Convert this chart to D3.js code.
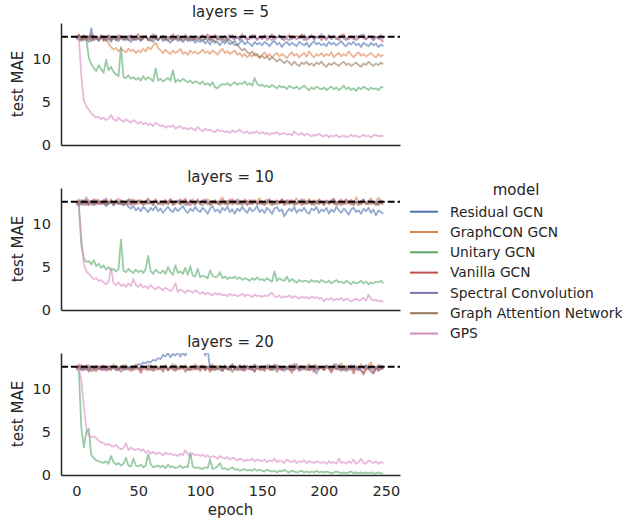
<!DOCTYPE html>
<html>
<head>
<meta charset="utf-8">
<script src="https://cdn.jsdelivr.net/npm/d3@7"></script>
<style>
  body { margin: 0; background: #fff; }
  text { font-family: "DejaVu Sans", sans-serif; fill: #262626; }
</style>
</head>
<body>
<script>
// every second epoch
var epochs = [0,2,4,6,8,10,12,14,16,18,20,22,24,26,28,30,32,34,36,38,40,42,44,46,48,
  50,52,54,56,58,60,62,64,66,68,70,72,74,76,78,80,82,84,86,88,90,92,94,96,98,
  100,102,104,106,108,110,112,114,116,118,120,122,124,126,128,130,132,134,136,138,140,142,144,146,148,
  150,152,154,156,158,160,162,164,166,168,170,172,174,176,178,180,182,184,186,188,190,192,194,196,198,
  200,202,204,206,208,210,212,214,216,218,220,222,224,226,228,230,232,234,236,238,240,242,244,246,248];

var models = ["Residual GCN", "GraphCON GCN", "Unitary GCN", "Vanilla GCN", "Spectral Convolution", "Graph Attention Network", "GPS"];
var colors = ["#4c72b0", "#dd8452", "#55a868", "#c44e52", "#8172b3", "#937860", "#da8bc3"];
var layers = [5, 10, 20];
var baseline = 12.6;
var xTicks = [0, 50, 100, 150, 200, 250];
var yTicks = [0, 5, 10];

// layers = 5
var res5 = [12.4,12.6,12.1,12.5,12.3,12.0,13.6,12.2,12.5,12.1,12.4,12.7,12.2,12.4,12.0,12.6,12.3,12.1,12.5,12.2,12.6,12.3,12.0,12.4,12.2,
  12.5,12.1,12.4,12.7,12.2,12.3,12.0,12.5,12.2,12.6,12.1,12.4,12.2,11.9,12.3,12.5,12.1,12.4,12.0,12.3,12.6,12.1,12.3,11.9,12.2,
  12.0,12.3,11.8,12.1,11.7,12.2,11.9,12.0,11.6,12.1,11.8,12.2,11.7,11.9,12.1,11.6,11.9,12.2,11.7,12.0,11.8,11.5,12.0,11.7,11.9,
  11.6,12.0,11.8,11.5,11.9,12.1,11.7,11.9,11.4,11.8,12.0,11.6,11.9,11.7,11.5,12.0,11.8,11.6,11.9,11.4,11.8,12.1,11.7,11.9,11.6,
  11.8,11.5,12.0,11.7,11.9,11.6,11.8,12.1,11.7,11.5,11.9,11.7,12.0,11.6,11.8,11.4,11.9,11.7,11.5,11.9,11.6,11.8,11.4,11.7,11.5];
var gcon5 = [12.5,12.9,12.2,12.6,12.3,12.7,12.1,12.5,12.4,12.2,12.6,12.3,12.5,11.8,11.4,11.1,11.3,10.9,11.2,11.0,10.8,11.2,10.9,11.1,10.7,
  11.0,10.8,11.2,10.9,11.4,11.1,11.6,11.9,11.3,11.0,10.7,11.1,10.8,10.6,11.0,10.7,10.9,11.2,10.6,10.8,10.5,11.0,10.7,10.9,10.6,
  10.8,11.1,10.7,10.9,10.6,11.0,10.8,10.5,10.9,11.2,10.7,10.9,10.6,10.8,11.0,10.5,10.7,10.3,10.6,10.2,10.5,10.3,10.7,10.4,10.1,
  10.5,10.8,10.3,10.6,10.2,10.5,10.7,10.3,10.6,10.4,10.1,10.5,10.8,10.4,10.6,10.2,10.5,10.7,10.3,10.9,10.5,10.2,10.6,10.4,10.7,
  10.3,10.6,10.4,10.8,10.2,10.5,10.7,10.3,10.6,10.4,10.9,10.5,10.2,10.6,10.8,10.4,10.6,10.3,10.5,10.7,10.4,10.2,10.6,10.3,10.5];
var uni5 = [12.5,12.8,12.4,12.6,12.3,10.2,9.4,9.0,8.6,9.3,8.8,8.4,9.9,8.7,9.1,8.5,8.2,8.0,11.4,7.9,7.8,8.1,7.7,7.9,7.6,
  7.8,7.5,8.0,7.6,7.9,7.7,7.4,8.9,7.5,7.7,7.4,7.6,7.8,7.5,8.7,7.3,7.6,7.4,7.7,7.5,7.3,7.5,7.2,7.4,7.3,
  7.1,7.4,7.0,7.2,6.9,7.3,6.7,6.6,6.9,7.1,7.0,7.2,6.9,7.1,7.3,7.0,7.2,7.1,7.4,7.0,7.2,6.9,7.8,7.1,6.9,
  7.0,6.8,6.9,6.7,7.0,6.8,6.6,6.9,6.7,6.8,6.5,6.9,6.7,6.6,6.8,6.5,6.7,6.9,6.6,6.4,6.7,6.5,6.8,6.6,6.5,
  6.7,6.4,6.6,6.8,6.5,6.7,6.4,6.6,6.9,6.5,6.7,6.4,6.6,6.3,6.7,6.5,6.8,6.6,6.4,6.7,6.5,6.6,6.4,6.7,6.8];
var van5 = [12.3,12.8,12.5,12.2,12.7,12.4,12.9,12.2,12.6,12.4,12.8,12.1,12.5,12.7,12.3,12.6,12.2,12.8,12.4,12.6,12.3,12.7,12.5,12.2,12.6,
  12.9,12.3,12.5,12.7,12.2,12.6,12.4,12.8,12.3,12.5,12.7,12.2,12.6,12.4,12.9,12.3,12.6,12.2,12.5,12.8,12.4,12.6,12.2,12.7,12.5,
  12.3,12.7,12.4,12.9,12.2,12.5,12.8,12.3,12.6,12.4,12.7,12.2,12.5,12.8,12.4,12.6,12.3,12.9,12.5,12.2,12.6,12.4,12.8,12.3,12.6,
  12.4,12.8,12.2,12.6,12.9,12.3,12.5,12.7,12.4,12.2,12.6,12.8,12.3,12.5,12.7,12.4,12.9,12.2,12.6,12.4,12.8,12.3,12.5,12.7,12.2,
  12.6,12.4,12.8,12.3,12.7,12.5,12.2,12.6,12.9,12.4,12.3,12.7,12.5,12.2,12.6,12.8,12.4,12.3,12.7,12.5,12.2,12.6,12.4,12.3,12.0];
var spec5 = [12.6,12.2,12.4,12.8,12.3,12.5,12.1,12.7,12.4,12.2,12.6,12.3,12.5,12.8,12.2,12.4,12.6,12.3,12.7,12.4,12.2,12.5,12.8,12.3,12.6,
  12.4,12.2,12.7,12.5,12.3,12.6,12.9,12.4,12.2,12.5,12.7,12.3,12.4,12.6,12.2,12.5,12.8,12.3,12.6,12.4,12.2,12.7,12.5,12.3,12.6,
  12.4,12.8,12.3,12.5,12.2,12.6,12.4,12.7,12.3,12.5,12.2,12.6,12.8,12.4,12.3,12.6,12.2,12.5,12.7,12.4,12.3,12.8,12.5,12.2,12.6,
  12.3,12.5,12.7,12.4,12.2,12.6,12.5,12.8,12.3,12.6,12.4,12.2,12.7,12.5,12.3,12.6,12.4,12.8,12.2,12.5,12.7,12.3,12.6,12.4,12.9,
  12.5,12.2,12.6,12.4,12.7,12.3,12.5,12.8,12.4,12.2,12.6,12.5,12.3,12.7,12.4,12.6,12.9,12.3,12.5,12.7,12.2,12.6,12.4,12.8,12.3];
var gat5 = [12.4,12.7,12.3,12.5,12.2,12.6,12.4,12.3,12.5,12.2,12.6,12.4,12.1,12.5,12.3,12.6,12.2,12.4,12.7,12.3,12.5,12.2,12.4,12.6,12.3,
  12.5,12.2,12.4,12.6,12.3,12.1,12.5,12.4,12.2,12.6,12.3,12.5,12.1,12.4,12.2,12.5,12.3,12.6,12.2,12.4,12.1,12.3,12.5,12.2,12.4,
  12.3,12.1,12.4,12.2,12.5,12.3,12.0,12.4,12.2,12.3,12.1,12.4,12.2,11.9,11.6,11.7,11.3,11.0,11.2,10.8,10.6,10.9,10.4,10.6,10.2,
  10.4,10.1,10.3,9.9,10.2,10.0,9.7,10.0,9.8,9.5,9.8,9.6,9.3,9.7,9.4,9.2,9.6,9.4,9.7,9.3,9.5,9.2,9.6,9.4,9.7,
  9.3,9.1,9.5,9.3,9.6,9.4,9.2,9.5,9.7,9.3,9.5,9.2,9.4,9.6,9.3,9.1,9.5,9.3,9.7,9.4,9.2,9.5,9.3,9.6,9.4];
var gps5 = [12.6,12.4,8.0,5.2,4.5,4.1,3.7,3.4,3.2,3.3,3.0,3.2,2.9,3.1,3.5,3.0,2.8,3.2,2.9,2.7,3.0,2.8,2.6,2.9,2.7,
  2.5,2.7,2.4,2.6,2.3,2.5,2.2,2.6,2.4,2.2,2.3,2.0,2.2,2.1,2.3,1.9,2.1,2.2,1.9,2.0,1.8,2.0,1.9,1.7,2.1,
  1.8,1.6,1.9,1.7,1.8,1.6,1.5,1.8,1.6,1.7,1.5,1.6,1.4,1.7,1.5,1.6,1.8,1.5,1.4,1.6,1.3,1.5,1.4,1.6,1.3,
  1.5,1.3,1.4,1.2,1.4,1.3,1.5,1.2,1.3,1.4,1.2,1.3,1.1,1.6,1.3,1.2,1.4,1.1,1.3,1.2,1.0,1.2,1.1,1.3,1.1,
  1.0,1.2,0.9,1.1,1.0,1.2,0.9,1.0,1.1,0.9,1.0,1.2,1.0,1.1,0.9,1.0,1.2,1.0,1.1,0.9,1.1,1.2,1.0,1.1,1.0];

// layers = 10
var res10 = [12.4,12.1,12.6,12.2,12.5,12.3,12.7,12.2,12.4,12.6,12.3,12.5,12.1,12.4,12.6,12.2,12.5,12.3,12.6,12.2,12.4,12.0,11.8,12.1,11.6,
  11.9,11.5,12.0,11.7,11.4,11.9,11.6,12.1,11.5,11.8,11.3,11.7,12.0,11.6,11.4,11.9,11.5,11.8,12.1,11.6,11.3,11.8,11.5,12.0,11.6,
  11.4,11.9,11.6,11.2,11.8,12.1,11.5,11.7,11.3,11.9,11.6,12.0,11.4,11.7,11.2,11.8,11.5,12.0,11.6,11.3,11.9,11.5,11.7,12.1,11.4,
  11.7,11.3,11.9,11.6,11.2,11.8,12.0,11.5,11.7,10.9,11.4,11.8,11.5,12.0,11.3,11.7,11.5,11.9,11.4,11.2,11.8,11.6,12.0,11.3,11.7,
  11.5,11.9,11.2,11.7,11.4,12.0,11.6,11.3,11.8,11.5,11.1,11.7,11.9,11.4,11.6,11.2,11.8,11.5,11.9,11.3,11.7,11.0,11.6,11.4,11.2];
var gcon10 = [12.5,12.9,12.3,12.7,12.4,12.8,12.2,12.6,12.9,12.4,12.7,12.3,12.8,12.5,12.9,12.4,12.6,13.0,12.3,12.7,12.5,12.8,12.4,12.9,12.6,
  12.3,12.8,12.5,12.7,13.0,12.4,12.6,12.9,12.3,12.7,12.5,12.8,12.4,12.9,12.6,12.3,12.8,12.5,12.7,13.0,12.4,12.6,12.9,12.3,12.7,
  12.5,12.8,12.4,12.9,12.6,12.3,12.7,12.5,12.8,13.1,12.4,12.6,12.9,12.3,12.7,12.5,12.8,12.4,12.9,12.6,12.3,12.8,12.5,12.7,13.0,
  12.4,12.6,12.9,12.3,12.7,12.5,12.8,12.4,12.9,12.6,12.3,12.8,12.5,12.7,13.0,12.4,12.6,12.9,12.3,12.7,12.5,12.8,12.4,12.9,12.6,
  12.3,12.8,12.5,12.7,13.0,12.4,12.6,12.9,12.3,12.7,12.5,12.8,12.4,13.1,12.6,12.3,12.8,12.5,12.7,13.0,12.4,12.6,13.1,12.5,12.7];
var uni10 = [12.5,12.2,7.5,6.0,5.6,5.7,5.3,5.8,5.1,5.4,4.9,5.2,4.7,5.0,4.6,4.8,4.5,4.7,8.2,4.6,4.4,4.8,4.5,4.3,4.7,
  4.4,4.6,4.3,4.8,6.3,4.5,4.2,4.7,4.4,4.3,4.6,4.2,5.0,4.4,4.1,5.2,4.3,4.5,4.2,4.9,4.1,5.1,4.0,3.9,4.8,
  3.8,4.0,3.9,3.7,4.6,4.0,3.8,3.9,4.4,3.7,3.9,3.6,3.8,3.7,3.9,3.6,3.8,3.5,3.7,3.6,3.4,3.7,3.5,3.8,3.5,
  3.6,3.4,3.7,3.5,3.3,4.5,3.4,3.7,3.5,3.4,3.9,3.3,3.6,3.4,3.2,3.5,3.3,3.4,3.4,3.2,3.5,3.3,3.4,3.2,3.5,
  3.3,3.2,3.4,3.1,3.3,3.5,3.2,3.3,3.1,3.4,3.2,3.0,3.3,3.1,3.2,3.4,3.1,3.3,3.0,3.2,3.1,3.3,3.2,3.4,3.1];
var van10 = [12.3,12.7,12.4,12.8,12.2,12.6,12.5,12.9,12.3,12.6,12.4,12.8,12.3,12.5,12.7,12.2,12.6,12.4,12.8,12.3,12.5,12.9,12.2,12.6,12.4,
  12.8,12.5,12.3,12.7,12.4,12.6,12.2,12.8,12.5,12.3,12.7,12.4,12.6,12.9,12.2,12.5,12.7,12.3,12.6,12.8,12.4,12.2,12.6,12.5,12.9,
  12.3,12.7,12.4,12.6,12.2,12.5,12.8,12.3,12.6,12.4,12.7,12.2,12.5,12.9,12.4,12.6,12.3,12.7,12.5,12.2,12.8,12.4,12.6,12.3,12.7,
  12.5,12.2,12.6,12.8,12.4,12.3,12.7,12.5,12.9,12.2,12.6,12.4,12.8,12.3,12.5,12.7,12.2,12.6,12.4,12.9,12.3,12.5,12.7,12.4,12.6,
  12.2,12.6,12.4,12.8,12.3,12.5,12.7,12.2,12.6,12.9,12.4,12.3,12.7,12.5,12.2,12.6,12.8,12.4,12.3,12.7,12.5,12.2,12.6,12.4,12.3];
var spec10 = [12.6,12.3,12.8,12.5,13.1,12.4,12.7,12.3,12.6,12.8,12.4,12.5,13.0,12.3,12.6,12.4,12.8,12.5,12.3,12.7,12.4,12.6,12.9,12.3,12.5,
  12.7,12.4,12.6,12.3,12.9,12.5,12.4,12.7,12.3,12.6,12.5,12.8,12.4,12.6,12.3,12.7,12.5,12.9,12.4,12.6,12.2,12.8,12.5,12.3,12.7,
  12.4,12.6,12.9,12.3,12.5,12.7,12.4,12.6,12.3,12.8,12.5,12.4,12.7,12.3,12.6,12.9,12.4,12.5,12.7,12.3,12.6,12.4,12.8,12.5,12.3,
  12.7,12.4,12.6,12.9,12.3,12.5,12.7,12.4,12.6,12.3,12.8,12.5,12.4,12.7,12.3,12.6,12.9,12.4,12.5,12.7,12.3,12.6,12.4,12.8,12.5,
  12.3,12.7,12.4,12.6,12.9,12.5,12.3,12.7,12.4,12.6,12.5,12.8,12.3,12.6,12.4,12.7,12.9,12.3,12.5,12.7,12.4,12.6,12.3,12.8,12.5];
var gat10 = [12.4,12.6,12.3,12.5,12.7,12.2,12.5,12.4,12.7,12.3,12.6,12.4,12.2,12.6,12.5,12.3,12.7,12.4,12.6,12.2,12.5,12.3,12.6,12.4,12.3,
  12.7,12.5,12.2,12.6,12.4,12.5,12.3,12.7,12.4,12.6,12.2,12.5,12.3,12.7,12.4,12.6,12.5,12.3,12.6,12.2,12.5,12.7,12.4,12.3,12.6,
  12.4,12.2,12.6,12.5,12.3,12.7,12.4,12.6,12.2,12.5,12.3,12.7,12.4,12.6,12.5,12.3,12.6,12.2,12.5,12.7,12.4,12.3,12.6,12.4,12.5,
  12.3,12.6,12.4,12.7,12.2,12.5,12.3,12.6,12.4,12.5,12.7,12.3,12.6,12.2,12.4,12.6,12.5,12.3,12.7,12.4,12.6,12.2,12.5,12.3,12.6,
  12.4,12.7,12.3,12.5,12.6,12.2,12.4,12.6,12.5,12.3,12.7,12.4,12.2,12.6,12.5,12.3,12.6,12.4,12.7,12.3,12.5,12.4,12.2,12.6,12.5];
var gps10 = [12.5,12.0,8.4,5.4,4.5,4.2,3.9,3.6,3.7,3.4,3.5,3.2,3.0,3.3,4.9,3.1,2.9,3.2,2.8,3.0,2.7,3.1,2.8,3.6,2.9,
  2.7,3.0,2.6,2.8,2.5,2.9,2.6,2.4,2.7,2.5,2.3,2.6,2.4,2.2,2.5,3.1,2.1,2.4,2.2,2.0,2.3,2.2,2.0,2.3,2.1,
  1.9,2.1,1.8,2.0,1.9,1.7,2.0,1.8,1.9,1.7,1.8,1.6,1.9,1.7,1.8,1.6,1.7,1.9,1.6,1.8,1.7,1.5,1.8,1.6,1.7,
  1.5,1.7,1.6,1.8,2.0,1.6,1.5,1.7,1.4,1.6,1.5,1.7,1.4,1.6,1.5,1.3,1.6,1.4,1.5,1.3,1.6,1.4,1.5,1.3,1.4,
  1.0,1.3,1.2,1.4,1.1,1.3,1.2,1.4,1.1,1.3,1.2,1.0,1.2,1.3,1.1,1.2,1.4,1.1,1.8,1.3,1.1,1.2,1.0,1.1,0.9];

// layers = 20
var res20 = [12.4,12.7,12.2,12.5,12.3,12.6,12.1,12.4,12.7,12.3,12.5,12.2,12.6,12.4,12.3,12.7,12.5,12.2,12.6,12.4,12.3,12.6,12.5,12.7,12.6,
  12.9,12.8,13.1,13.0,13.2,13.1,13.4,13.3,13.6,13.5,14.0,13.8,14.2,13.7,14.1,13.9,14.3,13.8,14.2,13.9,14.6,14.4,15.0,14.8,15.2,
  14.9,15.1,13.9,14.6,12.4,12.2,12.6,12.3,12.5,12.1,12.7,12.4,12.2,12.6,12.3,12.5,12.8,12.2,12.4,12.6,12.3,12.5,12.1,12.7,12.4,
  12.6,12.3,12.5,12.8,12.2,12.4,12.7,12.3,12.5,12.1,12.6,12.4,12.8,12.2,12.5,12.3,12.7,12.4,12.6,12.2,12.5,12.8,12.3,12.4,12.6,
  12.3,12.7,12.4,12.2,12.6,12.5,12.8,12.3,12.4,12.1,12.6,12.7,12.3,12.5,12.2,12.6,12.4,12.8,12.3,12.5,11.9,12.4,12.6,12.3,12.5];
var gcon20 = [12.5,12.9,12.2,12.6,12.3,12.8,12.4,12.1,12.7,12.5,12.3,12.8,12.4,12.6,12.2,12.9,12.5,12.3,12.7,12.4,12.8,12.2,12.6,12.4,12.9,
  12.3,12.5,12.7,12.2,12.6,12.8,12.4,12.5,12.3,12.7,12.4,12.8,12.2,12.6,12.9,12.3,12.5,12.7,12.4,12.8,12.3,12.6,12.2,12.9,12.5,
  12.3,12.8,12.4,12.6,12.2,12.9,12.5,12.3,12.7,12.4,12.8,12.3,12.6,12.9,12.4,12.2,12.7,12.5,12.8,12.3,12.6,12.4,12.9,12.5,12.3,
  12.7,12.4,12.8,12.2,12.6,12.9,12.4,12.5,12.3,12.7,12.4,12.8,12.2,13.0,12.5,12.3,12.7,12.4,12.6,12.9,12.3,12.5,12.8,12.4,12.6,
  12.3,12.8,12.5,12.2,12.9,12.4,12.7,13.0,12.3,12.6,12.5,12.8,12.2,12.7,12.4,12.9,12.5,12.3,12.8,13.1,12.4,12.6,12.3,12.8,12.6];
var uni20 = [12.5,12.0,5.5,3.2,5.0,5.4,2.3,2.0,1.7,1.6,1.5,1.4,1.6,1.3,2.2,1.5,1.2,1.4,1.1,1.3,2.0,1.1,1.0,1.9,1.1,
  1.0,1.2,0.9,1.1,2.4,1.3,0.9,1.0,1.1,0.9,1.1,0.8,1.2,0.9,1.0,0.8,0.9,1.1,0.8,1.0,0.9,2.6,1.0,0.8,0.9,
  0.8,0.7,0.9,0.8,1.8,0.7,0.8,1.0,1.4,0.7,0.8,0.6,0.7,0.9,0.6,0.7,0.5,0.6,0.7,0.5,0.6,0.5,0.7,0.5,0.6,
  0.5,0.4,0.6,0.5,0.4,0.5,0.3,0.5,0.4,0.6,0.4,0.3,0.5,0.4,0.3,0.4,0.5,0.3,0.4,0.3,0.4,0.3,0.5,0.3,0.4,
  0.3,0.4,0.3,0.2,0.3,0.4,0.3,0.2,0.3,0.2,0.3,0.4,0.2,0.3,0.2,0.3,0.2,0.3,0.2,0.3,0.2,0.2,0.3,0.2,0.2];
var van20 = [12.3,12.6,12.8,12.2,12.5,12.0,12.7,12.4,12.1,12.6,12.3,12.5,12.1,12.7,12.3,12.6,12.2,12.4,12.0,12.6,12.3,12.5,12.1,12.7,12.3,
  12.5,11.9,12.4,12.6,12.2,12.5,12.1,12.7,12.3,12.5,12.0,12.6,12.2,12.4,12.7,12.1,12.5,12.3,12.6,12.0,12.4,12.2,12.7,12.3,12.5,
  12.1,12.6,12.3,12.5,12.0,12.7,12.2,12.4,12.6,12.1,12.5,12.3,12.7,12.0,12.4,12.6,12.2,12.5,12.1,12.7,12.3,12.4,12.0,12.6,12.2,
  12.5,12.1,12.6,12.3,12.4,12.7,12.0,12.5,12.2,12.6,12.3,12.5,11.9,12.4,12.6,12.1,12.5,12.3,12.7,12.2,12.4,12.0,12.6,12.3,12.5,
  12.2,12.6,12.4,11.9,12.5,12.3,12.6,12.1,12.4,12.7,12.2,12.5,11.8,12.4,12.6,12.2,11.7,12.3,12.6,12.0,11.8,12.4,12.1,12.5,12.3];
var spec20 = [12.7,12.3,12.5,12.2,12.8,12.4,12.6,12.3,12.5,12.7,12.2,12.6,12.4,12.3,12.7,12.5,12.2,12.6,12.4,12.8,12.3,12.5,12.4,12.2,12.7,
  12.5,12.3,12.6,12.4,12.8,12.2,12.5,12.6,12.4,12.3,12.7,12.5,12.2,12.6,12.4,12.8,12.3,12.5,12.7,12.4,12.2,12.6,12.5,12.3,12.7,
  12.4,12.6,12.2,12.5,12.8,12.3,12.6,12.4,12.7,12.2,12.5,12.6,12.4,12.9,12.3,12.5,12.7,12.2,12.4,12.6,12.5,12.3,12.8,12.4,12.6,
  12.2,12.5,12.7,12.4,12.6,12.3,12.8,12.5,12.2,12.6,12.4,12.7,12.3,12.5,12.9,12.4,12.2,12.6,12.5,12.3,12.7,12.4,11.8,12.5,12.6,
  12.3,12.7,12.5,12.4,12.6,12.9,12.2,12.5,12.7,12.4,12.6,12.3,12.8,12.5,12.2,12.6,12.4,12.7,12.3,12.5,12.6,12.4,12.8,12.3,12.5];
var gat20 = [12.4,12.6,12.3,12.7,12.4,12.2,12.5,12.6,12.3,12.4,12.7,12.3,12.5,12.2,12.6,12.4,12.7,12.3,12.5,12.2,12.6,12.4,12.5,12.3,12.7,
  12.4,12.2,12.6,12.5,12.3,12.7,12.4,12.2,12.6,12.5,12.3,12.7,12.4,12.6,12.2,12.5,12.3,12.7,12.4,12.6,12.5,12.2,12.6,12.4,12.3,
  12.7,12.5,12.2,12.6,12.4,12.5,12.3,12.7,12.2,12.5,12.6,12.3,12.4,12.7,12.5,12.2,12.6,12.4,12.3,12.7,12.5,12.2,12.6,12.4,12.5,
  12.3,12.7,12.4,12.5,12.2,12.6,12.4,12.7,12.3,12.5,12.6,12.2,12.4,12.7,12.5,12.3,12.6,12.4,12.2,12.7,12.5,12.3,12.6,12.4,12.5,
  12.2,12.6,12.4,12.5,12.7,12.3,12.5,12.6,12.2,12.4,12.7,12.5,12.3,12.6,12.4,12.2,11.9,12.5,12.3,12.7,12.4,12.6,12.2,12.5,12.6];
var gps20 = [12.6,12.3,11.0,8.0,5.5,4.6,4.4,4.5,4.3,4.0,3.8,3.7,3.5,3.6,3.4,3.3,3.5,3.2,3.0,3.1,3.7,2.9,3.2,3.0,2.9,
  3.1,2.8,3.0,2.6,2.8,2.5,2.7,2.4,2.6,2.5,2.3,2.6,2.4,2.5,2.3,2.4,2.2,2.5,2.3,2.9,2.4,2.2,2.5,2.3,2.4,
  2.2,2.4,2.1,2.3,2.0,2.2,2.1,1.9,2.2,2.0,1.9,2.1,1.8,2.0,1.9,1.7,1.9,1.8,1.6,1.8,1.7,1.9,1.6,1.8,1.7,
  1.6,1.8,1.5,1.7,1.6,1.9,1.5,1.7,1.6,1.4,1.8,1.6,1.5,1.7,1.4,1.6,1.5,1.7,1.4,1.6,1.5,1.4,1.6,1.5,1.4,
  1.5,1.3,1.6,1.4,1.5,1.3,1.9,1.4,1.5,1.3,1.6,1.4,1.8,1.3,1.5,1.9,1.4,1.3,1.7,1.5,1.4,1.6,1.3,1.5,1.4];

var panelSeries = [
  [res5, gcon5, uni5, van5, spec5, gat5, gps5],
  [res10, gcon10, uni10, van10, spec10, gat10, gps10],
  [res20, gcon20, uni20, van20, spec20, gat20, gps20]
];

var width = 624;
var height = 518;
var left = 61, right = 400;
var panelTops = [23, 188, 353];
var panelH = 122;

var svg = d3.select("body")
  .append("svg")
  .attr("width", width)
  .attr("height", height);

var x = d3.scaleLinear().domain([-12.45, 261.45]).range([left, right]);
var y = d3.scaleLinear().domain([0, 14.2]).range([panelH, 0]);

var line = d3.line()
  .x(function(d) { return x(d[0]); })
  .y(function(d) { return y(d[1]); });

panelSeries.forEach(function(series, p) {
  var g = svg.append("g").attr("transform", "translate(0," + panelTops[p] + ")");

  g.append("clipPath").attr("id", "clip" + p)
    .append("rect")
    .attr("x", left).attr("y", 0)
    .attr("width", right - left).attr("height", panelH);

  var plot = g.append("g").attr("clip-path", "url(#clip" + p + ")");

  series.forEach(function(vals, k) {
    var pts = epochs.map(function(e, i) { return [e, vals[i]]; });
    plot.append("path")
      .attr("d", line(pts))
      .attr("fill", "none")
      .attr("stroke", colors[k])
      .attr("stroke-opacity", 0.6)
      .attr("stroke-width", 1.8)
      .attr("stroke-linejoin", "round");
  });

  plot.append("line")
    .attr("x1", left).attr("x2", right)
    .attr("y1", y(baseline)).attr("y2", y(baseline))
    .attr("stroke", "#000")
    .attr("stroke-width", 1.8)
    .attr("stroke-dasharray", "6.9,3");

  // y axis
  var ya = g.append("g")
    .attr("transform", "translate(" + left + ",0)")
    .call(d3.axisLeft(y).tickValues(yTicks).tickSize(0).tickPadding(10));
  ya.select(".domain").attr("stroke", "#262626").attr("stroke-width", 1.5);
  ya.selectAll("text").style("font-size", "14.5px").attr("fill", "#262626");

  // x axis, labels only on the bottom panel
  var xa = g.append("g")
    .attr("transform", "translate(0," + panelH + ")")
    .call(d3.axisBottom(x).tickValues(xTicks).tickSize(0).tickPadding(11));
  xa.select(".domain").attr("stroke", "#262626").attr("stroke-width", 1.5);
  if (p < 2) xa.selectAll(".tick").remove();
  xa.selectAll("text").style("font-size", "14.5px").attr("fill", "#262626");

  g.append("text")
    .attr("x", (left + right) / 2)
    .attr("y", -6)
    .attr("text-anchor", "middle")
    .style("font-size", "15px")
    .text("layers = " + layers[p]);

  g.append("text")
    .attr("transform", "translate(18," + (panelH / 2) + ") rotate(-90)")
    .attr("text-anchor", "middle")
    .attr("dy", "0.35em")
    .style("font-size", "15px")
    .text("test MAE");
});

svg.append("text")
  .attr("x", (left + right) / 2)
  .attr("y", 515)
  .attr("text-anchor", "middle")
  .style("font-size", "15px")
  .text("epoch");

// legend
var lg = svg.append("g");
lg.append("text")
  .attr("x", 516).attr("y", 190)
  .attr("dy", "0.35em")
  .attr("text-anchor", "middle")
  .style("font-size", "15px")
  .text("model");

models.forEach(function(m, k) {
  var yy = 211.7 + k * 20.3;
  lg.append("line")
    .attr("x1", 410).attr("x2", 438)
    .attr("y1", yy).attr("y2", yy)
    .attr("stroke", colors[k])
    .attr("stroke-width", 2);
  lg.append("text")
    .attr("x", 450).attr("y", yy)
    .attr("dy", "0.35em")
    .style("font-size", "13.8px")
    .text(m);
});
</script>
</body>
</html>
